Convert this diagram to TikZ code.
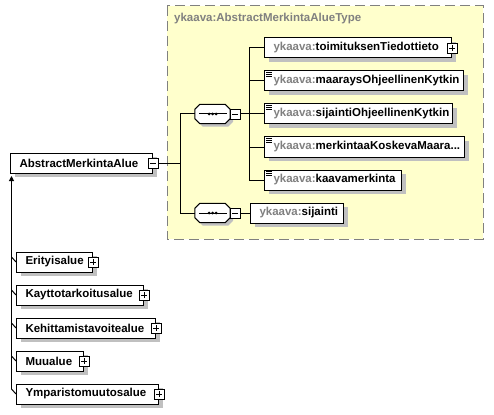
\documentclass[tikz,border=0pt]{standalone}
\usepackage{fontspec}
\setmainfont{Liberation Sans}
\usetikzlibrary{shadows,arrows.meta,calc}
\definecolor{yellowfill}{HTML}{FFFFCC}
\definecolor{dashgray}{HTML}{808080}
\definecolor{shadowgray}{HTML}{C0C0C0}
\definecolor{prefixgray}{HTML}{808080}
\newcommand\pre{\textcolor{prefixgray}{ykaava:}}
\newcommand\bx[2]{\makebox[#1][l]{#2}}
\newcommand\octpath[3]{([xshift=#2+5pt,yshift=#3]#1.north west) -- ([xshift=#2-5pt,yshift=#3]#1.north east) -- ([xshift=#2,yshift=#3-5pt]#1.north east) -- ([xshift=#2,yshift=#3+5pt]#1.south east) -- ([xshift=#2-5pt,yshift=#3]#1.south east) -- ([xshift=#2+5pt,yshift=#3]#1.south west) -- ([xshift=#2,yshift=#3+5pt]#1.south west) -- ([xshift=#2,yshift=#3-5pt]#1.north west) -- cycle}
\newcommand\seqdraw[1]{%
  \fill[shadowgray] \octpath{#1}{3pt}{-3pt};
  \draw[line width=1pt, fill=white] \octpath{#1}{0pt}{0pt};
  \draw[line width=1pt] ([xshift=4pt]#1.west) -- ([xshift=-3pt]#1.east);
  \fill ([xshift=-3.5pt]#1.center) circle (1.5pt) (#1.center) circle (1.5pt) ([xshift=3.5pt]#1.center) circle (1.5pt);
}
\newcommand\simpleicon[1]{%
  \draw[line width=0.8pt] ([xshift=2pt,yshift=-2pt]#1.north west) -- ++(6pt,0pt)
    ([xshift=2pt,yshift=-3.8pt]#1.north west) -- ++(6pt,0pt)
    ([xshift=2pt,yshift=-5.6pt]#1.north west) -- ++(6pt,0pt);
}
\begin{document}
\begin{tikzpicture}[x=1pt,y=-1pt,
  txt/.style={font=\fontsize{11.5}{13}\selectfont\bfseries},
  elem/.style={txt, draw, fill=white, line width=1pt, minimum height=20pt,
    inner xsep=9pt, inner ysep=0pt, anchor=west,
    drop shadow={shadow xshift=4pt, shadow yshift=-4pt, fill=shadowgray, opacity=1}},
  pmbox/.style={draw, fill=white, line width=0.8pt, minimum size=10pt, inner sep=0pt},
  plusbox/.style={pmbox, path picture={\draw[line width=0.8pt]
    ([xshift=-3pt]path picture bounding box.center) -- ([xshift=3pt]path picture bounding box.center)
    ([yshift=-3pt]path picture bounding box.center) -- ([yshift=3pt]path picture bounding box.center);}},
  minusbox/.style={pmbox, path picture={\draw[line width=0.8pt]
    ([xshift=-3pt]path picture bounding box.center) -- ([xshift=3pt]path picture bounding box.center);}},
  seqnode/.style={minimum width=35pt, minimum height=19pt, inner sep=0pt},
  conn/.style={line width=1pt}]
\useasboundingbox (0,0) rectangle (494,414);

% group box
\draw[dashgray, dash pattern=on 10pt off 5pt, fill=yellowfill, line width=1pt] (167,6) rectangle (483,239);
\node[txt, anchor=west, inner sep=0pt, text=prefixgray] (title) at (174,19) {ykaava:AbstractMerkintaAlueType};

% main element
\node[elem] (abs) at (10,163) {\bx{124pt}{AbstractMerkintaAlue}};
\node[minusbox] (absm) at (abs.east) {};
\coordinate (j1) at (180,163);

% sequences
\node[seqnode] (s1) at (212.5,114) {};
\seqdraw{s1}
\node[minusbox] (s1m) at ([xshift=5pt]s1.east) {};
\node[seqnode] (s2) at (212.5,213) {};
\seqdraw{s2}
\node[minusbox] (s2m) at ([xshift=5pt]s2.east) {};
\coordinate (j2) at (249,114);

% child elements
\node[elem] (e1) at (264,48) {\bx{169pt}{\pre toimituksenTiedottieto}};
\node[plusbox] (e1p) at (e1.east) {};
\node[elem] (e2) at (264,81) {\bx{181pt}{\pre maaraysOhjeellinenKytkin}};
\simpleicon{e2}
\node[elem] (e3) at (264,114) {\bx{170pt}{\pre sijaintiOhjeellinenKytkin}};
\simpleicon{e3}
\node[elem] (e4) at (264,147) {\bx{182pt}{\pre merkintaaKoskevaMaara...}};
\simpleicon{e4}
\node[elem] (e5) at (264,180) {\bx{119pt}{\pre kaavamerkinta}};
\simpleicon{e5}
\node[elem] (e6) at (250,213) {\bx{75pt}{\pre sijainti}};

% connectors
\draw[conn] (absm.east) -- (j1) |- (s1.west);
\draw[conn] (j1) |- (s2.west);
\draw[conn] (s1m.east) -- (e3.west);
\draw[conn] (j2) |- (e1.west);
\draw[conn] (j2) |- (e2.west);
\draw[conn] (j2) |- (e4.west);
\draw[conn] (j2) |- (e5.west);
\draw[conn] (s2m.east) -- (e6.west);

% derived types
\node[elem] (d1) at (16,262) {\bx{58pt}{Erityisalue}};
\node[plusbox] (d1p) at (d1.east) {};
\node[elem] (d2) at (16,295) {\bx{109pt}{Kayttotarkoitusalue}};
\node[plusbox] (d2p) at (d2.east) {};
\node[elem] (d3) at (16,328) {\bx{121pt}{Kehittamistavoitealue}};
\node[plusbox] (d3p) at (d3.east) {};
\node[elem] (d4) at (16,361) {\bx{49pt}{Muualue}};
\node[plusbox] (d4p) at (d4.east) {};
\node[elem] (d5) at (16,394) {\bx{124pt}{Ymparistomuutosalue}};
\node[plusbox] (d5p) at (d5.east) {};

\coordinate (atip) at (11.5,176);
\coordinate (abot) at (11.5,389);
\draw[conn, -{Triangle[width=5pt,length=5pt]}] (abot) -- (atip);
\foreach \n in {d1,d2,d3,d4,d5} \draw[conn] (\n.west) -- ++(-4.5,-5);
\end{tikzpicture}
\end{document}
